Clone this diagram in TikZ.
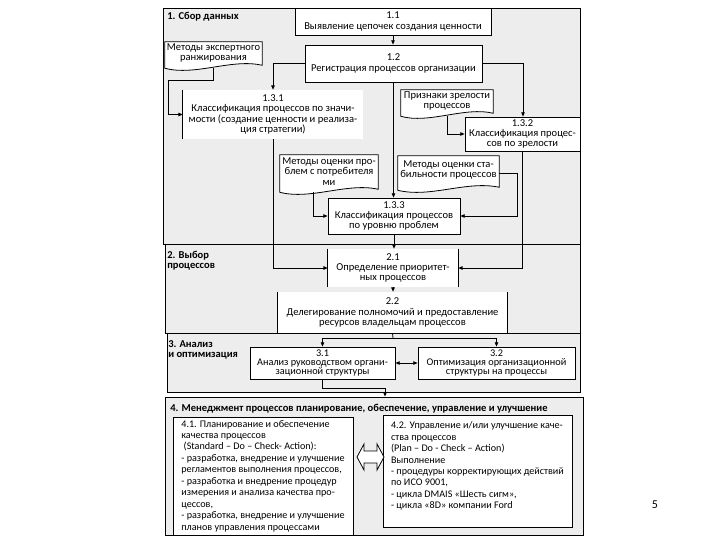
\documentclass[tikz,border=0pt]{standalone}
\usepackage{fontspec}
\setmainfont{Carlito}
\usetikzlibrary{calc,arrows.meta}
\definecolor{panel}{HTML}{EDEDED}
\newcommand\fs{\fontsize{7.9}{7.8}\selectfont}
\newcommand\fsb{\fontsize{7.6}{8.6}\selectfont}
\newcommand\fsc{\fontsize{7.7}{6.9}\selectfont}
\newcommand\bx[7][]{\node[#1,minimum width={(#5-#3)*0.75pt},minimum height={(#6-#4)*0.75pt}] (#2) at ({(#3+#5)/2},{(#4+#6)/2}) {#7};}
\newcommand\docshape[1]{\draw[line width=0.6pt,fill=white] (#1.north west) -- (#1.north east) -- ($(#1.south east)+(0,-3)$) .. controls ($(#1.south)+(18,-10)$) and ($(#1.south)+(-18,8)$) .. (#1.south west) -- cycle;}
\begin{document}
\begin{tikzpicture}[x=0.75pt,y=-0.75pt,
 font=\fs,
 box/.style={draw=black,fill=white,line width=0.6pt,inner sep=0pt,align=center},
 plain/.style={fill=white,inner sep=0pt,align=center},
 panelbox/.style={draw=black,fill=panel,line width=0.6pt,inner sep=0pt},
 lbl/.style={font=\fs\bfseries,inner sep=0pt,align=left},
 conn/.style={line width=0.6pt},
 arr/.style={conn,-{Triangle[length=3.2pt,width=2.6pt]}},
 darr/.style={conn,{Triangle[length=3.2pt,width=2.6pt]}-{Triangle[length=3.2pt,width=2.6pt]}},
 docbox/.style={inner sep=0pt},
 doctext/.style={inner sep=0pt,align=center},
]
\useasboundingbox (0,0) rectangle (720,540);
\fill[white] (0,0) rectangle (720,540);

% panels
\bx[panelbox]{sec1}{163}{8}{580}{244}{}
\bx[panelbox]{sec2}{165}{244}{580}{333}{}
\bx[panelbox]{sec3}{167}{333}{580}{392}{}
\bx[panelbox]{sec4}{165}{397}{583}{535}{}

% section labels
\node[lbl,anchor=west] (l1) at (167,17) {1. Сбор данных};
\node[lbl,anchor=north west] (l2) at (167,251) {2. Выбор\\процессов};
\node[lbl,anchor=north west] (l3) at (168,340) {3. Анализ\\и оптимизация};
\node[lbl,anchor=west] (l4) at (170,409) {4. Менеджмент процессов планирование, обеспечение, управление и улучшение};

% boxes
\bx[box]{b11}{295}{8}{491}{35}{1.1\\Выявление цепочек создания ценности}
\bx[box]{b12}{305}{45}{482}{82}{1.2\\Регистрация процессов организации}
\bx[plain]{b131}{183}{90}{363}{139}{1.3.1\\Классификация процессов по значи-\\мости (создание ценности и реализа-\\ция стратегии)}
\draw[conn] (b131.north west) -- (b131.south west);
\bx[box]{b132}{465}{117}{580}{151}{1.3.2\\Классификация процес-\\сов по зрелости}
\bx[box]{b133}{328}{198}{460}{234}{1.3.3\\Классификация процессов\\по уровню проблем}
\bx[plain]{b21}{328}{249}{458}{287}{2.1\\Определение приоритет-\\ных процессов}
\draw[conn] (b21.north west) -- (b21.south west) (b21.north east) -- (b21.south east);
\bx[plain]{b22}{278}{292}{507}{333}{2.2\\Делегирование полномочий и предоставление\\ресурсов владельцам процессов}
\draw[conn] (b22.north west) -- (b22.south west) (b22.north east) -- (b22.south east);
\bx[box,font=\fsc]{b31}{250}{347}{395}{379}{3.1\\Анализ руководством органи-\\зационной структуры}
\bx[box,font=\fsc]{b32}{418}{347}{575}{379}{3.2\\Оптимизация организационной\\структуры на процессы}
\bx[box,font=\fsb,align=left]{b41}{173}{417}{353}{535}{4.1. Планирование и обеспечение\\
качества процессов\\
\ (Standard – Do – Check- Action):\\
- разработка, внедрение и улучшение\\
регламентов выполнения процессов,\\
- разработка и внедрение процедур\\
измерения и анализа качества про-\\
цессов,\\
- разработка, внедрение и улучшение\\
планов управления процессами}
\bx[box,font=\fsb,align=left]{b42}{383}{415}{572}{527}{4.2. Управление и/или улучшение каче-\\
ства процессов\\
(Plan – Do - Check – Action)\\
Выполнение\\
- процедуры корректирующих действий\\
по ИСО 9001,\\
- цикла DMAIS «Шесть сигм»,\\
- цикла «8D» компании Ford\\
\mbox{}}

% documents
\bx[docbox]{d1}{165}{42}{262}{68}{}
\docshape{d1}
\node[doctext] (d1t) at ($(d1.center)+(0,-2)$) {Методы экспертного\\ранжирования};
\bx[docbox]{d2}{401}{90}{493}{116}{}
\docshape{d2}
\node[doctext] (d2t) at ($(d2.center)+(0,-2)$) {Признаки зрелости\\процессов};
\bx[docbox]{d3}{280}{155}{378}{192}{}
\docshape{d3}
\node[doctext] (d3t) at ($(d3.center)+(0,-2)$) {Методы оценки про-\\блем с потребителя\\ми};
\bx[docbox]{d4}{398}{156}{499}{190}{}
\docshape{d4}
\node[doctext] (d4t) at ($(d4.center)+(0,-3)$) {Методы оценки ста-\\бильности процессов};

% lanes
\coordinate (L0) at (168,0);
\coordinate (L1) at (273,0);
\coordinate (L3) at (523,0);
\coordinate (L4) at (517,0);
\coordinate (L5) at (385,0);
\coordinate (split) at (393,338);

% connectors
\draw[arr] (b11.south) -- (b11.south |- b12.north);
\draw[arr] (b12.west) -| (L1 |- b131.north);
\draw[arr] (b12.east) -| (L3 |- b132.north);
\draw[arr] (b12.south) -- (b12.south |- b133.north);
\draw[arr] (d1.south) -- ++(0,12) -| (L0 |- b131.west) -- (b131.west);
\draw[arr] (d2.south) |- (b132.west);
\draw[arr] ($(d3.south west)!0.34!(d3.south east)$) |- (b133.west);
\draw[arr] (d4.east) -| (L4 |- b133.east) -- (b133.east);
\draw[arr] (b131.south) |- (b21.west);
\draw[arr] (b132.south) |- (b21.east);
\draw[arr] (b133.south) -- (b133.south |- b21.north);
\draw[arr] (b21.south) -- (b21.south |- b22.north);
\draw[conn] (b22.south) -- (split);
\draw[arr] (split) -| (b31.north);
\draw[arr] (split) -| (b32.north);
\draw[darr] (b31.east) -- (b32.west);
\draw[arr] (b31.south) -- ++(0,9) -| (L5 |- sec4.north);

% block double arrow
\draw[line width=0.6pt,fill=white] (357,457) -- (364,444) -- (364,451) -- (377,451) -- (377,444) -- (384,457) -- (377,470) -- (377,463) -- (364,463) -- (364,470) -- cycle;

% page number
\node[font=\fontsize{9}{10}\selectfont] (pg) at (655,505) {5};
\end{tikzpicture}
\end{document}
